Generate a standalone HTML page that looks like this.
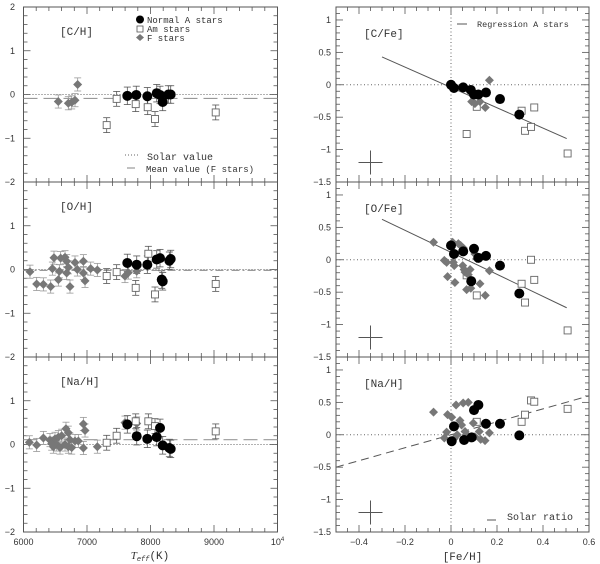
<!DOCTYPE html>
<html><head><meta charset="utf-8"><style>
html,body{margin:0;padding:0;background:#fff;}
svg{display:block;}
text{font-family:"Liberation Mono",monospace;fill:#333;}
.tk{font-family:"Liberation Sans",sans-serif;font-size:9px;fill:#333;}
</style></head><body>
<svg id="chart" width="600" height="564" viewBox="0 0 600 564" xmlns="http://www.w3.org/2000/svg"></svg>
<script>
// ===== Data: left column (Teff vs [X/H]) =====
const chF_T=[6548,6706,6759,6811,6853];
const chF_V=[-0.16,-0.2,-0.18,-0.13,0.23];
const chAm_T=[7310,7467,7767,7956,8071,9027];
const chAm_V=[-0.70,-0.10,-0.22,-0.29,-0.56,-0.41];
const chA_T=[7635,7776,7950,8098,8150,8192,8281,8318];
const chA_V=[-0.03,-0.01,-0.04,0.03,-0.01,-0.17,0.0,0.0];
const chMean=-0.09;

const ohF_T=[6102,6207,6313,6428,6455,6480,6549,6565,6585,6654,6680,6680,6706,6732,6811,6848,6943,6943,6969,7058,7163,7598,7651,7783];
const ohF_V=[-0.05,-0.33,-0.34,-0.39,0.02,0.27,-0.23,-0.04,0.26,0.28,0.19,-0.08,0.05,-0.39,0.16,0.0,0.19,-0.08,-0.26,0.02,-0.01,-0.15,-0.07,-0.04];
const ohAm_T=[7310,7467,7767,7966,8071,9027];
const ohAm_V=[-0.15,-0.06,-0.42,0.36,-0.57,-0.33];
const ohA_T=[7635,7783,7950,8098,8150,8177,8192,8297,8318];
const ohA_V=[0.15,0.11,0.11,0.23,0.26,-0.23,-0.27,0.20,0.24];
const ohMean=-0.02;

const naF_T=[6092,6207,6313,6417,6444,6470,6496,6522,6549,6575,6601,6654,6669,6706,6706,6732,6759,6811,6864,6943,6969,6943,7163,7598,7783];
const naF_V=[0.05,-0.01,0.15,0.10,0.02,-0.05,0.13,0.0,0.17,-0.07,0.20,0.0,0.36,0.27,-0.05,0.11,-0.07,0.08,0.08,0.47,0.32,-0.08,-0.05,0.50,0.48];
const naAm_T=[7310,7467,7767,7966,8071,9027];
const naAm_V=[0.04,0.20,0.53,0.53,0.42,0.30];
const naA_T=[7635,7783,7950,8098,8150,8192,8297,8318];
const naA_V=[0.46,0.19,0.13,0.17,0.38,-0.02,-0.08,-0.10];
const naMean=0.11;

// ===== Data: right column ([Fe/H] vs ratio) =====
const cfA_X=[0.0,0.013,0.053,0.086,0.10,0.119,0.152,0.213,0.297];
const cfA_Y=[0.0,-0.05,-0.04,-0.08,-0.15,-0.15,-0.12,-0.22,-0.46];
const cfF_X=[0.09,0.104,0.126,0.149,0.167];
const cfF_Y=[-0.26,-0.29,-0.26,-0.35,0.07];
const cfAm_X=[0.068,0.112,0.307,0.322,0.348,0.362,0.507];
const cfAm_Y=[-0.76,-0.34,-0.40,-0.71,-0.65,-0.35,-1.06];
const cfReg=[[-0.30,0.43],[0.503,-0.83]];

const ofA_X=[0.0,0.013,0.053,0.10,0.119,0.152,0.213,0.088,0.297];
const ofA_Y=[0.22,0.09,0.13,0.17,0.03,0.06,-0.09,-0.33,-0.52];
const ofF_X=[-0.076,-0.029,-0.019,-0.015,0.007,0.01,0.014,0.017,0.032,0.042,0.051,0.054,0.057,0.061,0.068,0.075,0.083,0.086,0.104,0.112,0.126,0.149,0.167];
const ofF_Y=[0.27,-0.01,-0.04,-0.26,0.27,-0.04,-0.09,-0.35,0.25,0.22,-0.09,0.18,-0.15,-0.19,-0.46,-0.23,-0.15,-0.44,0.09,0.02,-0.37,-0.55,-0.17];
const ofAm_X=[0.068,0.112,0.307,0.322,0.348,0.362,0.507];
const ofAm_Y=[-0.24,-0.55,-0.37,-0.66,0.0,-0.31,-1.09];
const ofReg=[[-0.30,0.625],[0.503,-0.74]];

const nfA_X=[0.003,0.013,0.057,0.090,0.10,0.119,0.152,0.213,0.297];
const nfA_Y=[-0.10,0.13,-0.08,-0.04,0.38,0.46,0.17,0.17,-0.01];
const nfF_X=[-0.076,-0.029,-0.019,-0.015,0.003,0.014,0.017,0.022,0.027,0.039,0.046,0.053,0.061,0.068,0.075,0.083,0.097,0.104,0.123,0.129,0.148,0.167];
const nfF_Y=[0.35,-0.05,0.04,0.31,0.27,-0.06,0.13,0.46,0.0,0.22,0.15,0.49,0.05,0.0,0.50,-0.05,0.18,-0.03,0.05,-0.07,-0.09,0.03];
const nfAm_X=[0.112,0.307,0.322,0.348,0.362,0.507];
const nfAm_Y=[0.2,0.2,0.31,0.53,0.51,0.40];
const solarRatio=[[-0.5,-0.5],[0.6,0.6]];

const leftXTicks=[6000,7000,8000,9000];
const leftYTicks=[2,1,0,-1,-2];
const rightXTicks=[-0.4,-0.2,0,0.2,0.4,0.6];
const rightYTicks=[1,0.5,0,-0.5,-1,-1.5];

// ===== Drawing =====
const NS='http://www.w3.org/2000/svg';
const svg=document.getElementById('chart');
function mk(tag,attrs,parent){const e=document.createElementNS(NS,tag);for(const k in attrs)e.setAttribute(k,attrs[k]);(parent||svg).appendChild(e);return e;}
const PT=[7,182,357], PH=175;
const LX0=23.5,LX1=277.5, RX0=336,RX1=589;
function lx(t){return LX0+(t-6000)/4000*(LX1-LX0);}
function ly(p,v){return PT[p]+(2-v)/4*PH;}
function rx(f){return RX0+(f+0.5)/1.1*(RX1-RX0);}
function ry(p,v){return PT[p]+(1.2-v)/2.7*PH;}
const GREY='#777', EB='#999';

function frame(x0,x1,p,name){
  const g=mk('g',{});
  
  
  mk('rect',{x:x0,y:PT[p],width:x1-x0,height:PH,fill:'none',stroke:'#555','stroke-width':1},g);
  return g;
}
function tick(g,x1,y1,x2,y2){mk('line',{x1,y1,x2,y2,stroke:'#555','stroke-width':0.8},g);}
function circle(g,x,y,name){const c=mk('circle',{cx:x,cy:y,r:5,fill:'#000'},g);}
function square(g,x,y,name){const c=mk('rect',{x:x-3.5,y:y-3.5,width:7,height:7,fill:'#fff',stroke:'#666','stroke-width':0.9},g);}
function diamond(g,x,y,name){const c=mk('polygon',{points:`${x},${y-4.5} ${x+4.5},${y} ${x},${y+4.5} ${x-4.5},${y}`,fill:GREY},g);}
function ebar(g,x,y1,y2,col){mk('line',{x1:x,y1:y1,x2:x,y2:y2,stroke:col,'stroke-width':0.8},g);tick2(g,x-3.5,y1,x+3.5,y1,col);tick2(g,x-3.5,y2,x+3.5,y2,col);}
function tick2(g,a,b,c,d,col){mk('line',{x1:a,y1:b,x2:c,y2:d,stroke:col,'stroke-width':0.8},g);}
function txt(g,x,y,s,size,cls,anchor){const t=mk('text',{x,y,'font-size':size,'text-anchor':anchor||'start'},g);if(cls)t.setAttribute('class',cls);t.textContent=s;return t;}

const leftSets=[
 {F:[chF_T,chF_V],Am:[chAm_T,chAm_V],A:[chA_T,chA_V],mean:chMean,label:'[C/H]',dash:'14,6'},
 {F:[ohF_T,ohF_V],Am:[ohAm_T,ohAm_V],A:[ohA_T,ohA_V],mean:ohMean,label:'[O/H]',dash:'8,3,2,3'},
 {F:[naF_T,naF_V],Am:[naAm_T,naAm_V],A:[naA_T,naA_V],mean:naMean,label:'[Na/H]',dash:'14,6'}];
leftSets.forEach((s,p)=>{
  const g=frame(LX0,LX1,p,'left-panel-'+['c','o','na'][p]);
  // ticks
  for(let t=6000;t<=10000;t+=200){const x=lx(t);const L=(t%1000===0)?7:4;tick(g,x,PT[p]+PH,x,PT[p]+PH-L);tick(g,x,PT[p],x,PT[p]+L);}
  for(let v=-2;v<=2.001;v+=0.2){const y=ly(p,v);const L=(Math.abs(v-Math.round(v))<0.01)?7:4;tick(g,LX0,y,LX0+L,y);tick(g,LX1,y,LX1-L,y);}
  leftYTicks.forEach(v=>{if(p>0&&v===2)return;const t=txt(g,15,ly(p,v)+3,v<0?'\u2212'+(-v):String(v),9,'tk','end');});
  // reference lines
  mk('line',{x1:LX0,x2:LX1,y1:ly(p,0),y2:ly(p,0),stroke:'#666','stroke-width':1,'stroke-dasharray':'1,2'},g);
  const ml=mk('line',{x1:LX0,x2:LX1,y1:ly(p,s.mean),y2:ly(p,s.mean),stroke:'#999','stroke-width':1.2,'stroke-dasharray':s.dash},g);
  
  const lb=txt(g,60,PT[p]+28,s.label,11,null);
  s.F[0].forEach((t,i)=>{const x=lx(t),y=ly(p,s.F[1][i]);ebar(g,x,y-0.15*43.75,y+0.15*43.75,EB);});
  s.Am[0].forEach((t,i)=>{const x=lx(t),y=ly(p,s.Am[1][i]);ebar(g,x,y-0.17*43.75,y+0.17*43.75,'#555');});
  s.A[0].forEach((t,i)=>{const x=lx(t),y=ly(p,s.A[1][i]);ebar(g,x,y-0.2*43.75,y+0.2*43.75,'#555');});
  s.F[0].forEach((t,i)=>diamond(g,lx(t),ly(p,s.F[1][i]),'f-star'));
  s.Am[0].forEach((t,i)=>square(g,lx(t),ly(p,s.Am[1][i]),'am-star'));
  s.A[0].forEach((t,i)=>circle(g,lx(t),ly(p,s.A[1][i]),'normal-a-star'));
});
// left legend
{const g=mk('g',{});
 mk('circle',{cx:140,cy:19.5,r:4,fill:'#000'},g);txt(g,147,23,'Normal A stars',9);
 mk('rect',{x:137,y:26,width:6,height:6,fill:'#fff',stroke:'#555','stroke-width':0.8},g);txt(g,147,32,'Am stars',9);
 mk('polygon',{points:'140,34 144,37.5 140,41 136,37.5',fill:GREY},g);txt(g,147,41,'F stars',9);
 mk('line',{x1:125,x2:140,y1:155,y2:155,stroke:'#666','stroke-dasharray':'1,2'},g);txt(g,147,160,'Solar value',10);
 mk('line',{x1:127,x2:135,y1:168,y2:168,stroke:'#999','stroke-width':1.2},g);txt(g,146,172,'Mean value (F stars)',9);
}
leftXTicks.forEach(t=>{const e=txt(svg,lx(t),545,String(t),9,'tk','middle');});
{const e=mk('text',{x:LX1,y:545,'font-size':9,'text-anchor':'middle',class:'tk'});e.innerHTML='10<tspan font-size="6" dy="-4">4</tspan>';}
{const e=mk('text',{x:150,y:559,'font-size':11,'text-anchor':'middle'});e.innerHTML='<tspan font-style="italic" font-family="Liberation Serif">T</tspan><tspan font-size="7" dy="2" font-style="italic">eff</tspan><tspan dy="-2">(K)</tspan>';}

const rightSets=[
 {A:[cfA_X,cfA_Y],F:[cfF_X,cfF_Y],Am:[cfAm_X,cfAm_Y],line:cfReg,dash:null,label:'[C/Fe]'},
 {A:[ofA_X,ofA_Y],F:[ofF_X,ofF_Y],Am:[ofAm_X,ofAm_Y],line:ofReg,dash:null,label:'[O/Fe]'},
 {A:[nfA_X,nfA_Y],F:[nfF_X,nfF_Y],Am:[nfAm_X,nfAm_Y],line:solarRatio,dash:'8,5',label:'[Na/H]'}];
rightSets.forEach((s,p)=>{
  const g=frame(RX0,RX1,p,'right-panel-'+['c-fe','o-fe','na-h'][p]);
  for(let f=-0.5;f<=0.601;f+=0.05){const x=rx(f);const L=(Math.abs(f*10-Math.round(f*10))<0.01&&Math.round(f*10)%2===0)?7:4;tick(g,x,PT[p]+PH,x,PT[p]+PH-L);tick(g,x,PT[p],x,PT[p]+L);}
  for(let v=-1.5;v<=1.201;v+=0.1){const y=ry(p,v);const L=(Math.abs(v*2-Math.round(v*2))<0.01)?7:4;tick(g,RX0,y,RX0+L,y);tick(g,RX1,y,RX1-L,y);}
  rightYTicks.forEach(v=>{const t=txt(g,331,ry(p,v)+3,v<0?'\u2212'+(-v):String(v),9,'tk','end');});
  mk('line',{x1:RX0,x2:RX1,y1:ry(p,0),y2:ry(p,0),stroke:'#666','stroke-dasharray':'1,2.5'},g);
  mk('line',{x1:rx(0),x2:rx(0),y1:PT[p],y2:PT[p]+PH,stroke:'#666','stroke-dasharray':'1,2.5'},g);
  const ln=mk('line',{x1:rx(s.line[0][0]),y1:ry(p,s.line[0][1]),x2:rx(s.line[1][0]),y2:ry(p,s.line[1][1]),stroke:'#555','stroke-width':1},g);
  if(s.dash)ln.setAttribute('stroke-dasharray',s.dash);
  
  const lb=txt(g,364,PT[p]+30,s.label,11,null);
  const cx=rx(-0.35),cy=ry(p,-1.2);
  const cr=mk('g',{},g);
  mk('line',{x1:cx-12,x2:cx+12,y1:cy,y2:cy,stroke:'#555'},cr);mk('line',{x1:cx,x2:cx,y1:cy-12,y2:cy+12,stroke:'#555'},cr);
  s.Am[0].forEach((f,i)=>square(g,rx(f),ry(p,s.Am[1][i]),'am-star'));
  s.F[0].forEach((f,i)=>diamond(g,rx(f),ry(p,s.F[1][i]),'f-star'));
  s.A[0].forEach((f,i)=>circle(g,rx(f),ry(p,s.A[1][i]),'normal-a-star'));
});
{const g=mk('g',{});
 mk('line',{x1:457,x2:467,y1:24,y2:24,stroke:'#555'},g);txt(g,477,27,'Regression A stars',8.5);}
{const g=mk('g',{});
 mk('line',{x1:487,x2:496,y1:520,y2:520,stroke:'#555'},g);txt(g,507,520,'Solar ratio',10);}
rightXTicks.forEach(f=>{const e=txt(svg,rx(f),545,f<0?'\u2212'+(-f):String(f),9,'tk','middle');});
{const e=txt(svg,rx(0.05),560,'[Fe/H]',11,null,'middle');}
</script>
</body></html>
